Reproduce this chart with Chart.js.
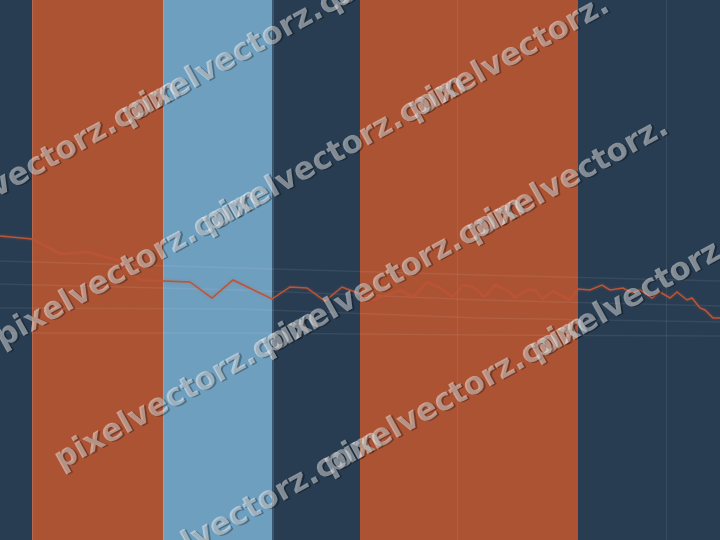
<!DOCTYPE html>
<html>
<head>
<meta charset="utf-8">
<script src="https://cdn.jsdelivr.net/npm/chart.js@4"></script>
<style>
    html, body { margin: 0; padding: 0; background: #283d52; }
    #wrap { width: 720px; height: 540px; }
</style>
</head>
<body>
<div id="wrap"><canvas id="chart"></canvas></div>
<script>
// band edges (x units) and their fills
const bandEdges = [0, 3.2, 16.3, 27.25, 36.0, 57.8, 72];
const bandColors = ['#283d52', '#ac5334', '#6f9fbf', '#283d52', '#ac5334', '#283d52'];
const edgeLines = [3.2, 16.3, 27.25];

// vertical grid marks
const gridX = [45.7, 66.6];

// main series
const lineX = [0, 3.2, 6.1, 8.8, 11.7, 14, 16.3, 19, 21.2, 23.3, 27.2, 29, 30.7, 32.5, 34.2, 35.5, 37.3, 40, 41.3, 42.7,
    44, 45.3, 46.3, 47.3, 48.5, 49.5, 50.7, 51.5, 52.7, 53.5, 54.3, 55.3, 56, 57, 57.8, 59, 60.2, 61, 62.3, 63.2,
    64, 65.2, 66, 67, 67.7, 68.7, 69.2, 70, 70.5, 71.3, 72];
const lineY = [30.4, 30.1, 28.6, 28.8, 28.0, 26.0, 25.9, 25.8, 24.2, 26.0, 24.1, 25.3, 25.2, 23.9, 25.3, 24.8, 24.0, 25.0, 24.3, 25.8,
    25.2, 24.3, 25.5, 25.3, 24.3, 25.5, 25.0, 24.2, 25.0, 25.0, 24.1, 24.9, 24.5, 24.0, 25.1, 25.0, 25.5, 25.0, 25.2, 24.7,
    25.0, 24.2, 24.8, 24.2, 24.8, 24.0, 24.2, 23.2, 23.0, 22.2, 22.2];

// faint background series
const faintX = [0, 24, 48, 72];
const faint1 = [27.9, 27.2, 26.5, 25.9];
const faint2 = [25.6, 25.0, 24.0, 23.4];
const faint3 = [23.2, 23.1, 22.2, 21.8];
const faint4 = [20.7, 20.7, 20.5, 20.4];

const toPoints = (xs, ys) => xs.map((x, i) => ({ x: x, y: ys[i] }));

const faintSet = (ys) => ({
    data: toPoints(faintX, ys),
    borderColor: 'rgba(255, 255, 255, 0.07)',
    borderWidth: 1.5,
    pointRadius: 0,
    tension: 0,
});

//! bands + grid behind the lines
const bands = {
    id: 'bands',
    beforeDatasetsDraw(chart) {
        const { ctx, chartArea, scales: { x } } = chart;
        const h = chartArea.bottom - chartArea.top;
        ctx.save();
        for (let i = 0; i < bandColors.length; i++) {
            const x0 = x.getPixelForValue(bandEdges[i]);
            const x1 = x.getPixelForValue(bandEdges[i + 1]);
            ctx.fillStyle = bandColors[i];
            ctx.fillRect(x0, chartArea.top, x1 - x0, h);
        }
        ctx.fillStyle = 'rgba(255, 255, 255, 0.13)';
        edgeLines.forEach(v => {
            ctx.fillRect(Math.round(x.getPixelForValue(v)), chartArea.top, 1, h);
        });
        ctx.fillStyle = 'rgba(255, 255, 255, 0.07)';
        gridX.forEach(v => {
            ctx.fillRect(Math.round(x.getPixelForValue(v)), chartArea.top, 1, h);
        });
        ctx.restore();
    }
};

//! glow on the main line
const glow = {
    id: 'glow',
    beforeDatasetDraw(chart, args) {
        if (args.index !== 0) return;
        chart.ctx.save();
        chart.ctx.shadowColor = 'rgba(200, 90, 60, 0.45)';
        chart.ctx.shadowBlur = 3;
    },
    afterDatasetDraw(chart, args) {
        if (args.index !== 0) return;
        chart.ctx.restore();
    }
};

//! watermark text
const watermark = {
    id: 'watermark',
    afterDraw(chart) {
        const ctx = chart.ctx;
        const rows = [
            { x: -82, y: 232, n: 3 },
            { x: -2, y: 341, n: 3 },
            { x: 57, y: 463, n: 3 },
            { x: 120, y: 582, n: 3 },
        ];
        ctx.save();
        ctx.font = 'bold 31px "DejaVu Sans"';
        ctx.textBaseline = 'middle';
        const step = ctx.measureText('pixelvectorz.c').width - 8;
        rows.forEach(r => {
            ctx.save();
            ctx.translate(r.x, r.y);
            ctx.rotate(-29 * Math.PI / 180);
            for (let k = 0; k < r.n; k++) {
                const txt = k === r.n - 1 ? 'pixelvectorz.' : 'pixelvectorz.com';
                ctx.fillStyle = 'rgba(0, 0, 0, 0.3)';
                ctx.fillText(txt, k * step + 1.5, 1.5);
                ctx.fillStyle = 'rgba(255, 255, 255, 0.45)';
                ctx.fillText(txt, k * step, 0);
            }
            ctx.restore();
        });
        ctx.restore();
    }
};

const ctx = document.getElementById('chart').getContext('2d');

new Chart(ctx, {
    type: 'line',
    data: {
        datasets: [
            {
                data: toPoints(lineX, lineY),
                borderColor: 'rgba(188, 84, 54, 1)',
                borderWidth: 1.5,
                pointRadius: 0,
                tension: 0,
            },
            faintSet(faint1),
            faintSet(faint2),
            faintSet(faint3),
            faintSet(faint4),
        ]
    },
    options: {
        responsive: true,
        maintainAspectRatio: false,
        animation: false,
        layout: { padding: 0 },
        scales: {
            x: { type: 'linear', min: 0, max: 72, display: false },
            y: { type: 'linear', min: 0, max: 54, display: false }
        },
        plugins: {
            legend: { display: false },
            tooltip: { enabled: false },
        }
    },
    plugins: [bands, glow, watermark]
});
</script>
</body>
</html>
